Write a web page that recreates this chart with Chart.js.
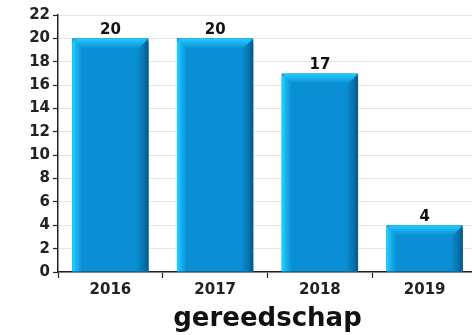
<!DOCTYPE html>
<html>
<head>
<meta charset="utf-8">
<script src="https://cdn.jsdelivr.net/npm/chart.js@4/dist/chart.umd.min.js"></script>
<style>
  html, body { margin: 0; padding: 0; background: #ffffff; overflow: hidden; }
  #wrap { width: 478px; height: 335px; position: relative; }
</style>
</head>
<body>
<div id="wrap"><canvas id="c"></canvas></div>
<script>
const categories = ['2016', '2017', '2018', '2019'];
const counts = [20, 20, 17, 4];
const yTicks = [0, 2, 4, 6, 8, 10, 12, 14, 16, 18, 20, 22];
const axisTitle = 'gereedschap';

const FONT = "'DejaVu Sans', sans-serif";
const BODY = '#0a8ed4';

// Bevelled bar faces: bright top/left edge fading into the body, dark right edge
const bevelPlugin = {
  id: 'bevel',
  afterDatasetsDraw(chart) {
    const ctx = chart.ctx;
    const meta = chart.getDatasetMeta(0);
    meta.data.forEach((bar, i) => {
      const p = bar.getProps(['x', 'y', 'base', 'width'], true);
      const l = p.x - p.width / 2, r = p.x + p.width / 2, t = p.y, b = p.base;
      const bv = 10, rad = 6;
      ctx.save();
      ctx.beginPath();
      ctx.moveTo(l, b);
      ctx.lineTo(l, t + rad);
      ctx.quadraticCurveTo(l, t, l + rad, t);
      ctx.lineTo(r - rad, t);
      ctx.quadraticCurveTo(r, t, r, t + rad);
      ctx.lineTo(r, b);
      ctx.closePath();
      ctx.clip();
      ctx.fillStyle = BODY;
      ctx.fillRect(l, t, p.width, b - t);
      // left face
      let g = ctx.createLinearGradient(l, 0, l + bv, 0);
      g.addColorStop(0, '#22d6ff');
      g.addColorStop(0.35, '#18b8f2');
      g.addColorStop(1, BODY);
      ctx.fillStyle = g;
      ctx.beginPath();
      ctx.moveTo(l, t); ctx.lineTo(l + bv, t + bv); ctx.lineTo(l + bv, b); ctx.lineTo(l, b); ctx.closePath();
      ctx.fill();
      // right face
      g = ctx.createLinearGradient(r - bv - 2, 0, r, 0);
      g.addColorStop(0, BODY);
      g.addColorStop(0.6, '#0674ae');
      g.addColorStop(1, '#045684');
      ctx.fillStyle = g;
      ctx.beginPath();
      ctx.moveTo(r, t); ctx.lineTo(r - bv - 2, t + bv + 2); ctx.lineTo(r - bv - 2, b); ctx.lineTo(r, b); ctx.closePath();
      ctx.fill();
      // top face
      g = ctx.createLinearGradient(0, t, 0, t + bv);
      g.addColorStop(0, '#26ccff');
      g.addColorStop(0.4, '#18b6f0');
      g.addColorStop(1, BODY);
      ctx.fillStyle = g;
      ctx.beginPath();
      ctx.moveTo(l, t); ctx.lineTo(r, t); ctx.lineTo(r - bv, t + bv); ctx.lineTo(l + bv, t + bv); ctx.closePath();
      ctx.fill();
      ctx.restore();

      // value label above the bar
      ctx.save();
      ctx.fillStyle = '#111111';
      ctx.font = "bold 15px " + FONT;
      ctx.textAlign = 'center';
      ctx.textBaseline = 'alphabetic';
      ctx.fillText(String(counts[i]), p.x, t - 4);
      ctx.restore();
    });
  }
};

new Chart(document.getElementById('c'), {
  type: 'bar',
  data: {
    labels: categories,
    datasets: [{
      data: counts,
      backgroundColor: BODY,
      borderWidth: 0,
      barPercentage: 0.73,
      categoryPercentage: 1.0
    }]
  },
  options: {
    responsive: true,
    maintainAspectRatio: false,
    animation: false,
    events: [],
    layout: { padding: { top: 15, right: 1, left: 0, bottom: 0 } },
    plugins: {
      legend: { display: false },
      tooltip: { enabled: false }
    },
    scales: {
      x: {
        offset: true,
        grid: {
          offset: true,
          drawOnChartArea: false,
          drawTicks: true,
          tickLength: 6,
          tickColor: '#222222',
          tickWidth: 1.2
        },
        border: { color: '#222222', width: 1.5 },
        ticks: {
          color: '#222222',
          font: { family: FONT, size: 15, weight: 'bold' },
          padding: 3,
          maxRotation: 0
        },
        title: {
          display: true,
          text: axisTitle,
          color: '#111111',
          font: { family: FONT, size: 26, weight: 'bold' },
          padding: { top: 3, bottom: 0 }
        },
        afterFit(scale) { scale.height = 63; }
      },
      y: {
        min: 0,
        max: 22,
        afterBuildTicks(scale) { scale.ticks = yTicks.map(v => ({ value: v })); },
        grid: {
          color: '#e6e6e6',
          lineWidth: 1,
          drawTicks: true,
          tickLength: 5,
          tickColor: '#222222',
          tickWidth: 1.2
        },
        border: { color: '#222222', width: 1.5 },
        ticks: {
          color: '#222222',
          font: { family: FONT, size: 15, weight: 'bold' },
          padding: 3
        },
        afterFit(scale) { scale.width = 58; }
      }
    }
  },
  plugins: [bevelPlugin]
});
</script>
</body>
</html>
